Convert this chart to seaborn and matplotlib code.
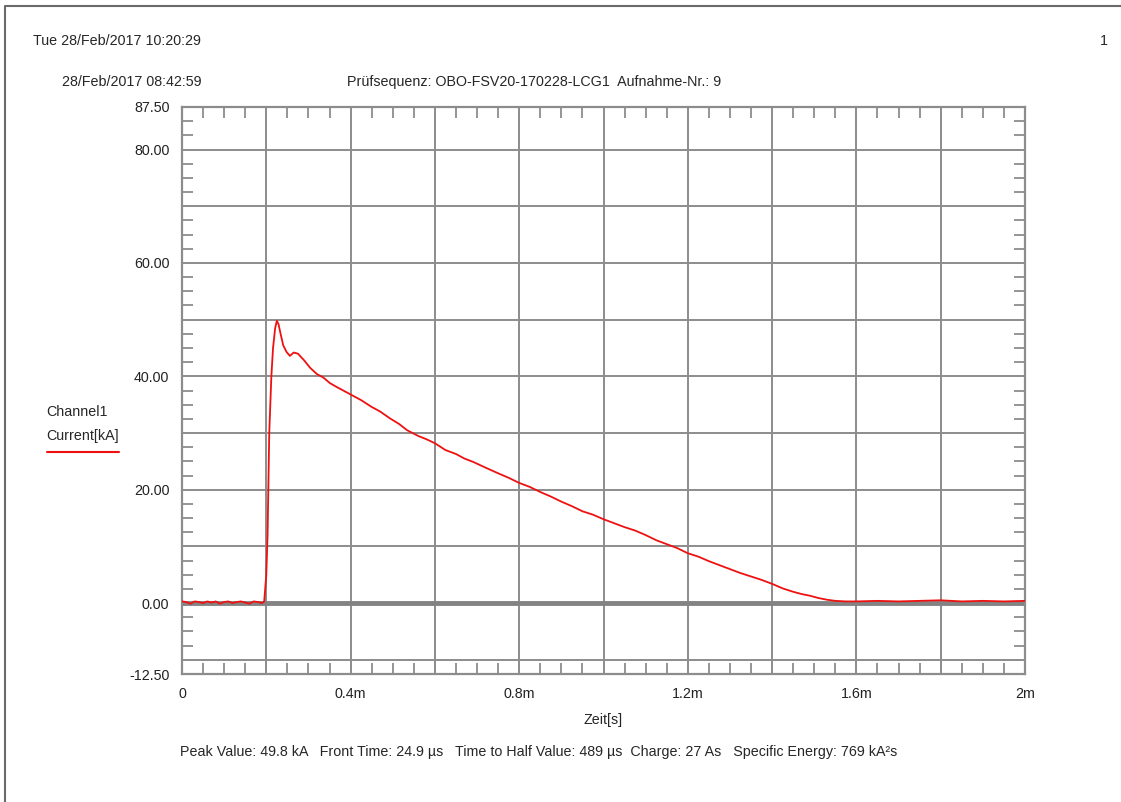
import matplotlib
matplotlib.use("Agg")
import matplotlib.pyplot as plt
import seaborn as sns
from matplotlib.lines import Line2D
from matplotlib.ticker import MultipleLocator

zeit_ms = [
    0.000, 0.010, 0.020, 0.030, 0.040, 0.050, 0.060, 0.070, 0.080, 0.090,
    0.100, 0.110, 0.120, 0.130, 0.140, 0.150, 0.160, 0.170, 0.180, 0.190, 0.195,
    0.200, 0.203, 0.207, 0.212, 0.216, 0.221, 0.225, 0.229, 0.233, 0.240,
    0.248, 0.256, 0.265, 0.275, 0.290, 0.304, 0.320, 0.335, 0.351, 0.365,
    0.380, 0.400, 0.425, 0.450, 0.470, 0.493, 0.515, 0.534, 0.560, 0.580,
    0.600, 0.625, 0.650, 0.670, 0.691, 0.720, 0.750, 0.775, 0.800, 0.825,
    0.850, 0.875, 0.900, 0.925, 0.950, 0.975, 1.000, 1.025, 1.050, 1.075,
    1.100, 1.125, 1.150, 1.175, 1.200, 1.225, 1.250, 1.275, 1.300, 1.325,
    1.350, 1.375, 1.400, 1.425, 1.450, 1.470, 1.490, 1.510, 1.530, 1.550,
    1.575, 1.600, 1.650, 1.700, 1.750, 1.800, 1.850, 1.900, 1.950, 2.000,
]
strom_ka = [
    0.3, 0.2, -0.1, 0.3, 0.2, 0.0, 0.3, 0.1, 0.3, -0.1,
    0.2, 0.3, 0.0, 0.2, 0.3, 0.1, -0.1, 0.3, 0.2, 0.0, 0.3,
    5.0, 12.0, 30.0, 40.0, 45.0, 48.5, 49.8, 49.2, 47.8, 45.5,
    44.3, 43.6, 44.2, 44.0, 42.8, 41.5, 40.4, 39.8, 38.8, 38.2,
    37.6, 36.8, 35.8, 34.6, 33.8, 32.6, 31.6, 30.5, 29.5, 28.9,
    28.2, 27.0, 26.3, 25.5, 24.9, 23.9, 22.9, 22.1, 21.2, 20.5,
    19.6, 18.8, 17.9, 17.1, 16.2, 15.6, 14.8, 14.1, 13.4, 12.8,
    12.0, 11.1, 10.4, 9.7, 8.8, 8.2, 7.4, 6.7, 6.0, 5.3,
    4.7, 4.1, 3.4, 2.6, 2.0, 1.6, 1.3, 0.9, 0.6, 0.4,
    0.3, 0.3, 0.4, 0.3, 0.4, 0.5, 0.3, 0.4, 0.3, 0.4,
]

x_ticks = [0, 0.2, 0.4, 0.6, 0.8, 1.0, 1.2, 1.4, 1.6, 1.8, 2.0]
x_labels = ["0", "", "0.4m", "", "0.8m", "", "1.2m", "", "1.6m", "", "2m"]
y_ticks = [-12.5, -10, 0, 10, 20, 30, 40, 50, 60, 70, 80, 87.5]
y_labels = ["-12.50", "", "0.00", "", "20.00", "", "40.00", "", "60.00", "", "80.00", "87.50"]

kopf_links = "Tue 28/Feb/2017 10:20:29"
seite = "1"
aufnahme_zeit = "28/Feb/2017 08:42:59"
sequenz = "Prüfsequenz: OBO-FSV20-170228-LCG1  Aufnahme-Nr.: 9"
kennwerte = ("Peak Value: 49.8 kA   Front Time: 24.9 µs   Time to Half Value: 489 µs  "
             "Charge: 27 As   Specific Energy: 769 kA²s")

W, H = 1121, 802
GRAU = "#8c8c8c"
ROT = "#ee1111"
FS = 10.3

sns.set_style("white")
plt.rcParams["font.family"] = ["Liberation Sans", "DejaVu Sans"]


def px(x, y):
    # Pixelkoordinaten -> Figurkoordinaten
    return x / W, 1 - y / H


fig = plt.figure(figsize=(W / 100, H / 100), dpi=100)

# Achse im Pixelraster der Vorlage
ax = fig.add_axes([182 / W, 1 - 674 / H, 843 / W, 567 / H])
ax.set_axisbelow(True)
sns.lineplot(x=zeit_ms, y=strom_ka, color=ROT, linewidth=1.3, ax=ax, zorder=3)
ax.axhline(0, color="#838383", linewidth=3.5, zorder=2)

ax.set_xlim(0, 2)
ax.set_ylim(-12.5, 87.5)
ax.set_xticks(x_ticks, x_labels)
ax.set_yticks(y_ticks, y_labels)
ax.xaxis.set_minor_locator(MultipleLocator(0.05))
ax.yaxis.set_minor_locator(MultipleLocator(2.5))
ax.tick_params(which="major", length=0, pad=9, labelsize=FS, colors="#222222")
ax.tick_params(which="minor", direction="in", length=8, width=1.3, color=GRAU,
               top=True, bottom=True, left=True, right=True)
ax.grid(True, which="major", color=GRAU, linewidth=1.4)
for s in ax.spines.values():
    s.set_color(GRAU)
    s.set_linewidth(1.6)
ax.set_xlabel("")
ax.set_ylabel("")

# Texte
fig.text(*px(33, 41), kopf_links, fontsize=FS, va="center", ha="left")
fig.text(*px(1100, 41), seite, fontsize=FS, va="center", ha="left")
fig.text(*px(201, 82), aufnahme_zeit, fontsize=FS, va="center", ha="right")
fig.text(*px(347, 82), sequenz, fontsize=FS, va="center", ha="left")
fig.text(*px(603, 720), "Zeit[s]", fontsize=FS, va="center", ha="center")
fig.text(*px(46, 412), "Channel1", fontsize=FS, va="center", ha="left")
fig.text(*px(46, 436), "Current[kA]", fontsize=FS, va="center", ha="left")
fig.text(*px(539, 752), kennwerte, fontsize=FS, va="center", ha="center")

# Legendenstrich und Seitenrahmen
x0, y0 = px(47, 452)
x1, _ = px(119, 452)
fig.add_artist(Line2D([x0, x1], [y0, y0], color=ROT, linewidth=1.5))
fx0, fy0 = px(5, 802)
fx1, fy1 = px(1121, 6)
fig.add_artist(Line2D([fx0, fx0, fx1], [fy0, fy1, fy1], color="#6a6a6a", linewidth=1.5))

fig.savefig("out.png", dpi=100)
